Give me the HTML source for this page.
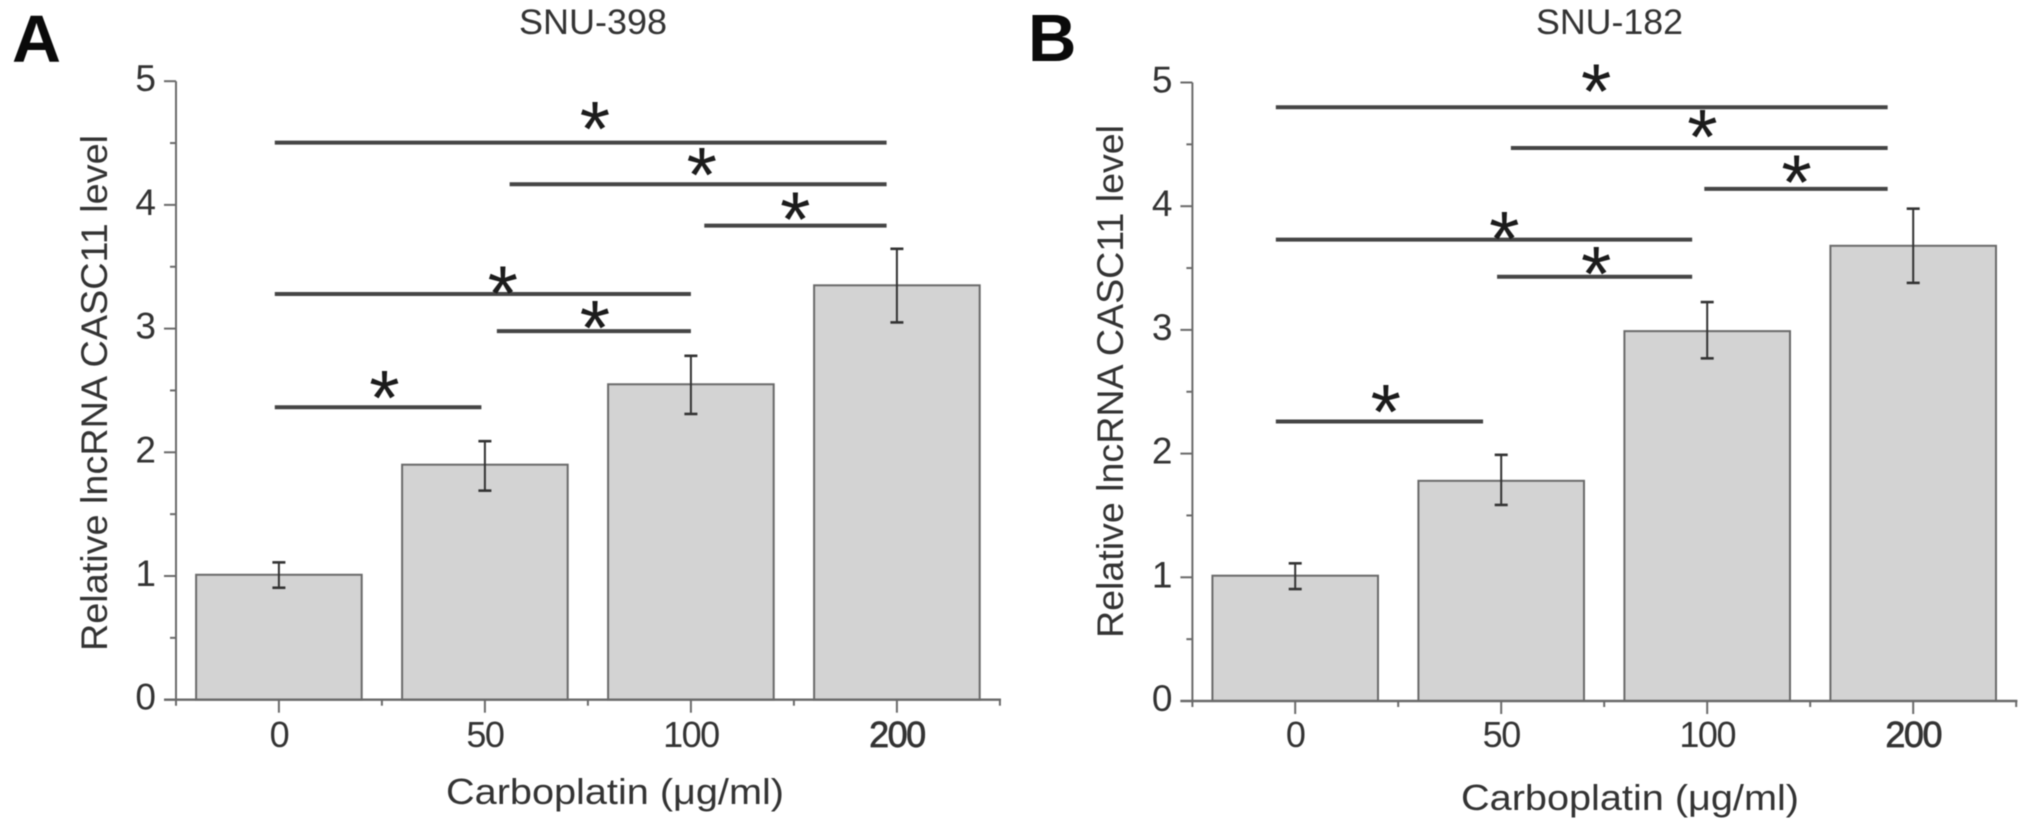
<!DOCTYPE html>
<html lang="en">
<head>
<meta charset="utf-8">
<title>CASC11 level by carboplatin dose</title>
<style>
html,body{margin:0;padding:0;background:#fff;width:2031px;height:822px;overflow:hidden}
svg{display:block;filter:blur(0.6px)}
text{font-family:"Liberation Sans",sans-serif;fill:#333}
</style>
</head>
<body>
<svg id="figure" width="2031" height="822" viewBox="0 0 2031 822" xmlns="http://www.w3.org/2000/svg">
  <rect width="2031" height="822" fill="#fff"/>
  <text x="12" y="62" font-size="67" font-weight="bold" textLength="49" lengthAdjust="spacingAndGlyphs" style="fill:#0a0a0a">A</text>
  <text x="1028" y="61" font-size="67" font-weight="bold" style="fill:#0a0a0a">B</text>
  <text x="519" y="34" font-size="35" textLength="148" lengthAdjust="spacingAndGlyphs">SNU-398</text>
  <text x="1536" y="34" font-size="35" textLength="147" lengthAdjust="spacingAndGlyphs">SNU-182</text>
  <text transform="translate(107,651) rotate(-90)" font-size="37" textLength="516" lengthAdjust="spacingAndGlyphs">Relative lncRNA CASC11 level</text>
  <text transform="translate(1123,638) rotate(-90)" font-size="37" textLength="513" lengthAdjust="spacingAndGlyphs">Relative lncRNA CASC11 level</text>
  <text x="446" y="804" font-size="36" textLength="338" lengthAdjust="spacingAndGlyphs">Carboplatin (μg/ml)</text>
  <text x="1461" y="810" font-size="36" textLength="338" lengthAdjust="spacingAndGlyphs">Carboplatin (μg/ml)</text>
  <g id="panel-a"></g>
  <g id="panel-b"></g>
</svg>
<script>
const categories = ['0', '50', '100', '200'];
const yTickLabels = [0, 1, 2, 3, 4, 5];
const yMinorTicks = [0.5, 1.5, 2.5, 3.5, 4.5];

const valuesA = [1.01, 1.90, 2.55, 3.35];
const errorHighA = [1.11, 2.09, 2.78, 3.645];
const errorLowA = [0.905, 1.69, 2.31, 3.05];
const bracketLevelA = [4.503, 4.167, 3.832, 3.28, 2.98, 2.364];
const bracketStartA = [-0.02, 1.12, 2.065, -0.02, 1.058, -0.02];
const bracketEndA = [2.95, 2.95, 2.95, 2.0, 2.0, 0.983];
const starCatA = [1.534, 2.053, 2.507, 1.087, 1.534, 0.512];
const starLevelA = [4.727, 4.355, 3.994, 3.398, 3.118, 2.552];

const valuesB = [1.013, 1.78, 2.99, 3.68];
const errorHighB = [1.113, 1.99, 3.225, 3.98];
const errorLowB = [0.905, 1.585, 2.77, 3.38];
const bracketLevelB = [4.80, 4.47, 4.14, 3.73, 3.43, 2.26];
const bracketStartB = [-0.094, 1.047, 1.986, -0.094, 0.98, -0.094];
const bracketEndB = [2.876, 2.876, 2.876, 1.927, 1.927, 0.912];
const starCatB = [1.461, 1.977, 2.434, 1.015, 1.461, 0.44];
const starLevelB = [5.039, 4.673, 4.303, 3.85, 3.565, 2.45];

const SVG_NS = 'http://www.w3.org/2000/svg';

function make(parent, tag, attrs, text) {
  const el = document.createElementNS(SVG_NS, tag);
  for (const k in attrs) el.setAttribute(k, attrs[k]);
  if (text !== undefined) el.textContent = text;
  parent.appendChild(el);
  return el;
}

function drawPanel(panel, id, originX, baselineY, catZero, values, errHigh, errLow, brLevel, brStart, brEnd, starCat, starLevel) {
  const unitY = 123.7;
  const unitX = 206;
  const barWidth = 165.6;
  const yScale = v => baselineY - v * unitY;
  const xScale = c => catZero + c * unitX;
  const axisColor = '#6a6a6a';
  const root = document.getElementById(id);

  values.forEach((v, i) => {
    const x = xScale(i) - barWidth / 2;
    const bar = make(root, 'rect', {x: x, y: yScale(v), width: barWidth, height: baselineY - yScale(v), fill: '#d3d3d3', stroke: '#6a6a6a', 'stroke-width': 2});
    
    
  });

  const yAxis = make(root, 'line', {x1: originX, x2: originX, y1: yScale(5), y2: baselineY + 6, stroke: axisColor, 'stroke-width': 2});
  
  
  const xAxis = make(root, 'line', {x1: originX - 12, x2: originX + 4 * unitX + 1, y1: baselineY, y2: baselineY, stroke: axisColor, 'stroke-width': 2.4});
  
  

  yTickLabels.forEach(v => {
    const tick = make(root, 'line', {x1: originX - 12, x2: originX, y1: yScale(v), y2: yScale(v), stroke: axisColor, 'stroke-width': 2});
    
    
    const label = make(root, 'text', {x: originX - 20, y: yScale(v) + 10, 'font-size': 37, 'text-anchor': 'end'}, String(v));
    
    
  });
  yMinorTicks.forEach(v => {
    const tick = make(root, 'line', {x1: originX - 6, x2: originX, y1: yScale(v), y2: yScale(v), stroke: axisColor, 'stroke-width': 2});
    
    
  });

  categories.forEach((c, i) => {
    const x = xScale(i);
    const tick = make(root, 'line', {x1: x, x2: x, y1: baselineY, y2: baselineY + 13, stroke: axisColor, 'stroke-width': 2});
    
    
    const label = make(root, 'text', {x: x, y: 747, 'font-size': 36, 'letter-spacing': -1.5, 'text-anchor': 'middle', stroke: i === 3 ? '#333' : 'none', 'stroke-width': 0.7}, c);
    
    
    const minor = make(root, 'line', {x1: x + unitX / 2, x2: x + unitX / 2, y1: baselineY, y2: baselineY + 6, stroke: axisColor, 'stroke-width': 2});
    
    
  });

  values.forEach((v, i) => {
    const x = xScale(i);
    const group = make(root, 'g', {stroke: '#333', 'stroke-width': 2});
    
    
    make(group, 'line', {x1: x, x2: x, y1: yScale(errHigh[i]), y2: yScale(errLow[i])});
    make(group, 'line', {x1: x - 6.5, x2: x + 6.5, y1: yScale(errHigh[i]), y2: yScale(errHigh[i]), 'stroke-width': 2.6});
    make(group, 'line', {x1: x - 6.5, x2: x + 6.5, y1: yScale(errLow[i]), y2: yScale(errLow[i]), 'stroke-width': 2.6});
  });

  brLevel.forEach((v, i) => {
    const line = make(root, 'line', {x1: xScale(brStart[i]), x2: xScale(brEnd[i]), y1: yScale(v), y2: yScale(v), stroke: '#454545', 'stroke-width': 4});
    
    
  });

  starLevel.forEach((v, i) => {
    const star = make(root, 'text', {x: xScale(starCat[i]), y: yScale(v) + 40.5, 'font-size': 78, 'text-anchor': 'middle', style: 'fill:#1c1c1c'}, '*');
    
    
  });
}

drawPanel('a', 'panel-a', 176, 699.7, 278.9, valuesA, errorHighA, errorLowA, bracketLevelA, bracketStartA, bracketEndA, starCatA, starLevelA);
drawPanel('b', 'panel-b', 1192.4, 701, 1295.2, valuesB, errorHighB, errorLowB, bracketLevelB, bracketStartB, bracketEndB, starCatB, starLevelB);
</script>
</body>
</html>
